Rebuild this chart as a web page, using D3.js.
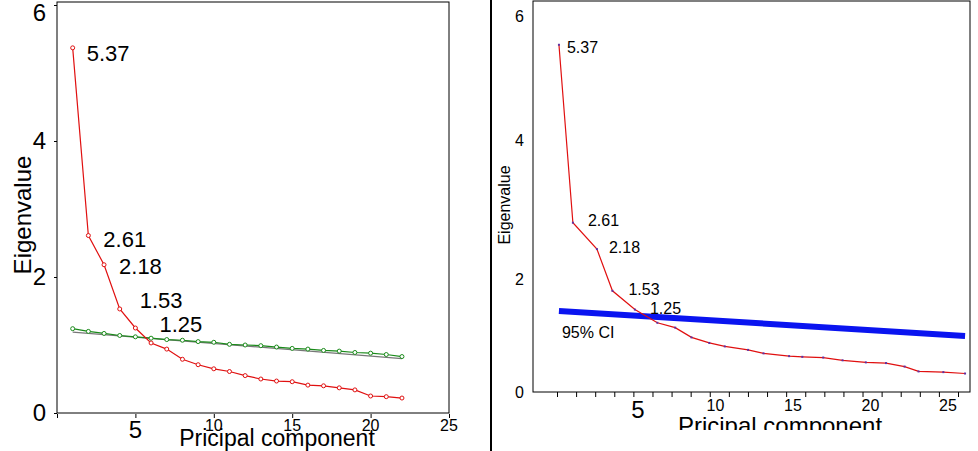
<!DOCTYPE html><html><head><meta charset="utf-8">
<script src="https://cdn.jsdelivr.net/npm/d3@7"></script>
<style>body{margin:0;background:#fff}text{font-family:Arial,"Liberation Sans",sans-serif}</style></head><body>
<svg id="c" width="978" height="451"></svg>
<script>
// Left panel
const leftPC = d3.range(1,23);
const leftEig = [5.37,2.61,2.18,1.53,1.25,1.03,0.94,0.79,0.71,0.65,0.61,0.55,0.50,0.47,0.46,0.41,0.40,0.37,0.34,0.25,0.24,0.22];
const leftSim = [1.24,1.20,1.17,1.14,1.12,1.10,1.08,1.07,1.05,1.04,1.01,1.00,0.99,0.97,0.95,0.94,0.92,0.91,0.89,0.88,0.86,0.83];
const leftFitX = [1,22], leftFitY = [1.19,0.80];
const labels = ["5.37","2.61","2.18","1.53","1.25"];
// Right panel
const rightPC = [-0.1,0.8,2.35,3.35,4.8,6.25,7.4,8.45,9.6,10.6,12.1,13.1,14.75,15.6,16.95,18.2,19.7,21.0,22.2,23.1,24.7,26.1];
const rightEig = [5.37,2.81,2.43,1.83,1.56,1.37,1.30,1.16,1.08,1.03,0.98,0.93,0.89,0.88,0.87,0.83,0.80,0.79,0.74,0.67,0.66,0.64];
const ciX = [-0.1,26.1], ciY = [1.54,1.18];
const xTicks = [5,10,15,20,25], yTicks = [0,2,4,6];

const svg = d3.select("#c");
// ---------- left ----------
const xL = d3.scaleLinear().domain([0,25]).range([57,449]);
const yL = d3.scaleLinear().domain([0,6]).range([413,5]);
svg.append("rect").attr("x",57).attr("y",2).attr("width",392).attr("height",411).attr("fill","none").attr("stroke","#000");
const gxL = svg.append("g").attr("transform","translate(0,414)").call(d3.axisBottom(xL).tickValues([0,...xTicks]).tickSize(4).tickFormat(""));
gxL.select(".domain").remove();
xTicks.forEach(t=>svg.append("text").attr("x",xL(t)).attr("y",t===5?438:431).attr("text-anchor","middle").attr("font-size",t===5?24:16).text(t));
const gyL = svg.append("g").attr("transform","translate(57,0)").call(d3.axisLeft(yL).tickValues(yTicks).tickSize(3).tickFormat(""));
gyL.select(".domain").remove();
yTicks.forEach(t=>svg.append("text").attr("x",46).attr("y",Math.max(yL(t),13)+8).attr("text-anchor","end").attr("font-size",24).text(t));
svg.append("text").attr("transform","translate(31,215) rotate(-90)").attr("text-anchor","middle").attr("font-size",24).text("Eigenvalue");
svg.append("text").attr("x",277).attr("y",446).attr("text-anchor","middle").attr("font-size",23).text("Pricipal component");
const lineL = d3.line().x(d=>xL(d[0])).y(d=>yL(d[1]));
svg.append("path").attr("d",lineL(d3.zip(leftFitX,leftFitY))).attr("stroke","#777").attr("fill","none").attr("stroke-width",1.2);
svg.append("path").attr("d",lineL(d3.zip(leftPC,leftSim))).attr("stroke","#1a8a1a").attr("fill","none").attr("stroke-width",1.2);
svg.append("path").attr("d",lineL(d3.zip(leftPC,leftEig))).attr("stroke","#e01010").attr("fill","none").attr("stroke-width",1.2);
svg.selectAll(".gs").data(d3.zip(leftPC,leftSim)).join("circle").attr("cx",d=>xL(d[0])).attr("cy",d=>yL(d[1])).attr("r",2).attr("fill","#fff").attr("stroke","#1a8a1a");
svg.selectAll(".rs").data(d3.zip(leftPC,leftEig)).join("circle").attr("cx",d=>xL(d[0])).attr("cy",d=>yL(d[1])).attr("r",2).attr("fill","#fff").attr("stroke","#e01010");
const offL = [[14,13],[15,11],[15,9],[20,-1],[24,4]];
labels.forEach((l,i)=>svg.append("text").attr("x",xL(leftPC[i])+offL[i][0]).attr("y",yL(leftEig[i])+offL[i][1]).attr("font-size",22).text(l));

// ---------- right ----------
svg.append("line").attr("x1",491).attr("x2",491).attr("y1",0).attr("y2",451).attr("stroke","#000").attr("stroke-width",2);
const xR = d3.scaleLinear().domain([0,25]).range([560.5,948]);
const yR = d3.scaleLinear().domain([2,4]).range([279,140]);
const yB = 392;
svg.append("rect").attr("x",533).attr("y",1).attr("width",437).attr("height",yB-1).attr("fill","none").attr("stroke","#000");
const tickS = d3.scaleLinear().domain([0,21]).range([557,958]);
svg.append("g").attr("transform",`translate(0,${yB})`).call(d3.axisBottom(tickS).ticks(21).tickSize(5).tickFormat("")).select(".domain").remove();
xTicks.forEach(t=>svg.append("text").attr("x",xR(t)).attr("y",t===5?418:411).attr("text-anchor","middle").attr("font-size",t===5?24:16).text(t));
[2,4,6].forEach(t=>svg.append("text").attr("x",524).attr("y",Math.max(yR(t),16)+6).attr("text-anchor","end").attr("font-size",16).text(t));
svg.append("text").attr("x",524).attr("y",yB+6).attr("text-anchor","end").attr("font-size",16).text("0");
svg.append("text").attr("transform","translate(510,205) rotate(-90)").attr("text-anchor","middle").attr("font-size",16).text("Eigenvalue");
svg.append("defs").append("clipPath").attr("id","cl").append("rect").attr("x",490).attr("y",0).attr("width",488).attr("height",430);
svg.append("text").attr("clip-path","url(#cl)").attr("x",780).attr("y",434).attr("text-anchor","middle").attr("font-size",24).text("Pricipal component");
const lineR = d3.line().x(d=>xR(d[0])).y(d=>yR(d[1]));
svg.append("path").attr("d",lineR(d3.zip(ciX,ciY))).attr("stroke","#0a14f0").attr("stroke-width",6).attr("fill","none");
svg.append("path").attr("d",lineR(d3.zip(rightPC,rightEig))).attr("stroke","#e01010").attr("stroke-width",1.2).attr("fill","none");
svg.selectAll(".rp").data(d3.zip(rightPC,rightEig)).join("rect").attr("x",d=>xR(d[0])-1).attr("y",d=>yR(d[1])-1).attr("width",2).attr("height",2).attr("fill","#6030a0");
const offR = [[8,8],[15,3],[12,4],[16,4],[15,4]];
labels.forEach((l,i)=>svg.append("text").attr("x",xR(rightPC[i])+offR[i][0]).attr("y",yR(rightEig[i])+offR[i][1]).attr("font-size",16).text(l));
svg.append("text").attr("x",xR(rightPC[0])+3).attr("y",338).attr("font-size",16).text("95% CI");
</script></body></html>
